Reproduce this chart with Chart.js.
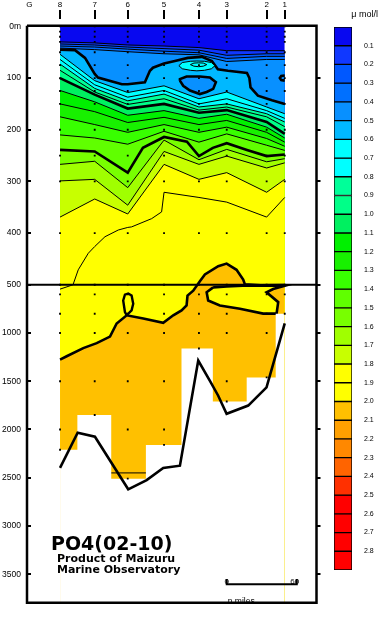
<!DOCTYPE html>
<html><head><meta charset="utf-8">
<script src="https://cdn.jsdelivr.net/npm/chart.js@4"></script>
<style>
html,body{margin:0;padding:0;background:#fff;}
#wrap{position:relative;width:380px;height:617px;overflow:hidden;background:#fff;}
#main{position:absolute;left:0;top:0;}
#bar{position:absolute;left:322px;top:0;}
</style></head><body>
<div id="wrap"><canvas id="main" width="322" height="617"></canvas><canvas id="bar" width="56" height="617"></canvas></div>
<script>
// ---------------- data ----------------
const stationNames = ['G','8','7','6','5','4','3','2','1'];
const stationDist  = [2, 28.3, 58, 86.3, 117.4, 147.3, 171.1, 205.3, 220.8];   // n.miles
const castDist     = [28.3, 58, 86.3, 117.4, 147.3, 171.1, 205.3, 220.8];      // stations 8..1
const depthTicks   = [0,100,200,300,400,500,1000,1500,2000,2500,3000,3500];
const depthLabels  = ['0m','100','200','300','400','500','1000','1500','2000','2500','3000','3500'];
const levels       = [0.1,0.2,0.3,0.4,0.5,0.6,0.7,0.8,0.9,1.0,1.1,1.2,1.3,1.4,1.5,1.6,1.7,1.8,1.9,2.0,2.1,2.2,2.3,2.4,2.5,2.6,2.7,2.8];
const thickLevels  = [0.5,1.0,1.5,2.0,2.5];
const bandColors   = ['#0808f0','#1038ff','#0058ff','#0070ff','#0890ff','#00b8ff','#00ffff','#00ffff','#00ff99','#00ff88',
                      '#00f060','#00f000','#18f000','#38ff00','#60ff00','#78ff00','#a0ff00','#c8ff00','#ffff00','#ffff00',
                      '#ffc000','#ffa000','#ff8800','#ff6400','#ff3000','#ff0000','#ff0000','#ff0000','#ff0000'];

// iso-lines: depth (m) at stations 8..1
const iso01 = [30, 32, 36, 38, 41, 47, 47, 47];
const iso02 = [34, 36, 40, 43, 46, 56, 53, 53];
const iso03 = [38, 40, 44, 48, 51, 62, 58, 58];
const iso04 = [42, 45, 49, 53, 55, 68, 64, 64];
const iso05 = [[28.3,45],[41.1,46],[49.7,61],[58,92],[60.8,99],[81.3,112],[86.3,112],[101,108],[105.3,86],[107.9,80],[117.4,72],[126.7,67],[137.8,61],[149.8,59],[158.4,67],[163.5,83],[172.1,86],[188.4,90],[190.5,100],[191.5,118],[197.8,134],[209.8,143],[220.8,150]];
const iso06 = [54, 105, 128, 115, 140, 127, 156, 169];
const iso07 = [64, 113, 137, 124, 150, 140, 163, 178];
const iso08 = [73, 120, 144, 131, 156, 150, 169, 185];
const iso09 = [85, 127, 151, 140, 162, 156, 175, 194];
const iso10 = [100, 132, 159, 150, 167, 162, 185, 208];
const iso11 = [124, 146, 172, 163, 178, 170, 195, 216];
const iso12 = [150, 165, 186, 176, 190, 182, 205, 224];
const iso13 = [175, 190, 205, 190, 205, 195, 217, 232];
const iso14 = [210, 216, 228, 203, 224, 208, 230, 240];
const iso15 = [[28.3,239],[58,242],[86.3,283],[99.3,235],[117.4,214],[137,223],[147.3,251],[159.2,235],[171.1,226],[188.4,239],[205.3,251],[220.8,248]];
const iso16 = [267, 261, 312, 220, 258, 238, 262, 256];
const iso17 = [299, 296, 346, 242, 267, 251, 274, 264];
const iso18 = [369, 334, 363, 267, 296, 283, 321, 296];
const iso19 = [[28.3,545],[39.4,500],[43.9,471],[52.5,439],[58,426],[66.8,407],[78.2,394],[86.3,389],[89.6,388],[106.8,372],[115.3,359],[117.4,321],[147.3,331],[171.1,340],[205.3,369],[220.8,331]];
const iso20 = [[28.3,1276],[34,1241],[48.2,1156],[59.7,1105],[71.1,1037],[76.8,901],[85.4,816],[99.6,850],[116.7,895],[125.3,816],[132.4,765],[136.7,714],[137.5,612],[142.4,561],[148.1,493],[152.4,480],[163.8,464],[171,459],[179.5,471],[185.2,490],[186.6,499],[200,505],[220.8,504]];
const iso21 = [[72,2450],[102.8,2450]];
// closed contours
const loop05    = [[131,105],[133.8,115],[139.6,124],[148.1,131],[153.9,127],[159.5,121],[161.8,108],[156.7,99],[148.1,97],[136.7,97],[131,102],[131,105]];
const ellipse06 = [[130.1,76],[133,70],[140,67.5],[145.5,67],[152,67.5],[158,70],[161,76],[158,82],[152,85],[145.5,86],[140,85],[133,82],[130.1,76]];
const ellipse07 = [[140,74],[143,71],[147,70.5],[151,71],[154,74],[151,77],[147,78],[143,77],[140,74]];
const loopSt1   = [[220.8,95],[217.8,96],[216.6,100],[217.8,104],[220.8,105]];
const tongue20  = [[159.5,527],[153.9,578],[155.2,663],[165.2,714],[182.4,748],[202.3,799],[213.8,799],[215.2,680],[205.2,578],[210.9,544],[220.8,510],[184.9,510],[171.1,517],[159.5,527]];
const drop20    = [[85.4,816],[83.9,782],[82.4,663],[83.9,602],[86.7,590],[89.6,612],[91,697],[89.6,765],[85.4,816]];
// deepest sample per station and sea bottom
const deepest     = [2210, 1850, 2510, 2160, 1160, 1710, 1460, 800];
const sampleDepths = [0,10,20,30,50,75,100,125,150,200,250,300,400,500,600,800,1000,1500,2000,2500];
const seaBottom   = [[28.3,2398],[43.4,2034],[58.2,2075],[86.7,2620],[102.5,2524],[116.7,2398],[131,2375],[146.7,1286],[156.7,1497],[163.8,1650],[171,1837],[189.5,1752],[205.2,1564],[220.8,901]];
const scaleBarStart = 171.1, scaleBarLen = 60;   // n.miles

// ---------------- scale mapping ----------------
const PX_UP = 0.525, PX_LOW = 0.098;
const R = PX_LOW / PX_UP;
function toT(d){ return d <= 500 ? d : 500 + (d - 500) * R; }
const T_MIN = -(26.5 - 19) / PX_UP;
const T_MAX = 500 + (612 - 289) / PX_UP;
const X_MAX = 248;

const fromStations = a => castDist.map((x,i)=>({x, y: toT(a[i])}));
const fromPairs = a => a.map(p=>({x:p[0], y:toT(p[1])}));
const NONE = 'rgba(0,0,0,0)';

const layers = [];
function add(ds){
  layers.push(Object.assign({pointRadius:0, tension:0, borderColor:'#000', borderWidth:1, fill:false, spanGaps:true}, ds));
}
// base (top band)
add({data:[{x:castDist[0],y:0},{x:castDist[castDist.length-1],y:0}], fill:'start', backgroundColor:bandColors[0], borderColor:NONE});
const isoSeries = [fromStations(iso01),fromStations(iso02),fromStations(iso03),fromStations(iso04),fromPairs(iso05),
  fromStations(iso06),fromStations(iso07),fromStations(iso08),fromStations(iso09),fromStations(iso10),
  fromStations(iso11),fromStations(iso12),fromStations(iso13),fromStations(iso14),fromPairs(iso15),
  fromStations(iso16),fromStations(iso17),fromStations(iso18),fromPairs(iso19),fromPairs(iso20)];
isoSeries.forEach((d,i)=>{
  const thick = thickLevels.includes(levels[i]);
  add({data:d, fill:'start', backgroundColor:bandColors[i+1], borderWidth: thick?2.6:1});
});
add({data:fromPairs(ellipse06), fill:'shape', backgroundColor:bandColors[6], borderWidth:1});
add({data:fromPairs(ellipse07), borderWidth:1});
add({data:fromPairs(loop05), fill:'shape', backgroundColor:bandColors[4], borderWidth:2.6});
add({data:fromPairs(loopSt1), borderWidth:2.6});
add({data:fromPairs(tongue20), fill:'shape', backgroundColor:bandColors[19], borderWidth:2.6});
add({data:fromPairs(drop20), borderWidth:2.4});
add({data:fromPairs(iso21), borderWidth:1});
// white below deepest sample
add({data:fromStations(deepest), stepped:'middle', fill:'start', backgroundColor:'#ffffff', borderColor:NONE});
// sea bottom
add({data:fromPairs(seaBottom), borderWidth:2.6});
// 500 m break line
add({data:[{x:0,y:500},{x:X_MAX,y:500}], borderWidth:2});
// sample points
const pts = [];
castDist.forEach((x,i)=>{
  sampleDepths.forEach(d=>{ if (d < deepest[i]-20) pts.push({x, y:toT(d)}); });
  pts.push({x, y:toT(deepest[i])});
});
add({data:pts, showLine:false, pointRadius:1.3, pointStyle:'rect', pointBackgroundColor:'#000', pointBorderColor:NONE, pointBorderWidth:0, borderColor:NONE});
// distance scale bar
add({data:fromPairs([[scaleBarStart,3550],[scaleBarStart,3605],[scaleBarStart+scaleBarLen,3605],[scaleBarStart+scaleBarLen,3550]]), borderWidth:2});
// frame
add({data:[{x:0,y:-1.2},{x:X_MAX,y:-1.2},{x:X_MAX,y:T_MAX},{x:0,y:T_MAX},{x:0,y:-1.2}], borderWidth:2.5, clip:false});

layers.forEach((ds,i)=>{ ds.order = layers.length - i; });

const FONT = "'Liberation Sans', Arial, sans-serif";

const textPlugin = {
  id:'texts',
  afterDraw(chart){
    const ctx = chart.ctx, xs = chart.scales.x;
    ctx.save();
    ctx.fillStyle = '#000';
    ctx.textAlign = 'center'; ctx.textBaseline = 'alphabetic';
    ctx.font = "8px " + FONT;
    ctx.fillText('0', xs.getPixelForValue(scaleBarStart), 584);
    ctx.fillText('60', xs.getPixelForValue(scaleBarStart+scaleBarLen)-2, 584);
    ctx.textAlign = 'left';
    ctx.font = "8.5px " + FONT;
    ctx.fillText('n.miles', xs.getPixelForValue(scaleBarStart)+1, 603.5);
    ctx.font = "bold 19px 'DejaVu Sans'";
    ctx.fillText('PO4(02-10)', 51, 549.5);
    ctx.font = "bold 11px 'DejaVu Sans'";
    ctx.fillText('Product of Maizuru', 57, 561.8);
    ctx.fillText('Marine Observatory', 57, 572.8);
    ctx.restore();
  }
};

new Chart(document.getElementById('main'), {
  type:'line',
  data:{datasets:layers},
  options:{
    responsive:false, animation:false, events:[],
    layout:{padding:{left:0,right:0,top:0,bottom:5}},
    plugins:{legend:{display:false}, tooltip:{enabled:false}},
    scales:{
      x:{type:'linear', position:'top', min:0, max:X_MAX, bounds:'data',
        afterBuildTicks:s=>{ s.ticks = stationDist.map(v=>({value:v})); },
        afterFit:s=>{ s.height = 19; },
        ticks:{callback:(v,i)=>stationNames[i], font:{family:FONT,size:8}, color:'#000', padding:0, maxRotation:0, autoSkip:false},
        grid:{drawOnChartArea:false, tickLength:9, lineWidth:2, color:'#000', tickColor:c=> (c.index===0 ? NONE : '#000')},
        border:{display:false}},
      y:{type:'linear', position:'left', reverse:true, min:T_MIN, max:T_MAX, bounds:'data',
        afterBuildTicks:s=>{ s.ticks = depthTicks.map(d=>({value:toT(d)})); },
        afterFit:s=>{ s.width = 27; },
        ticks:{callback:(v,i)=>depthLabels[i], font:{family:FONT,size:8.5,lineHeight:1}, color:'#000', padding:10, autoSkip:false},
        grid:{drawOnChartArea:false, tickLength:-4, lineWidth:2, color:'#000', z:1},
        border:{display:false}},
      y2:{type:'linear', position:'right', reverse:true, min:T_MIN, max:T_MAX, bounds:'data',
        afterBuildTicks:s=>{ s.ticks = depthTicks.slice(1).map(d=>({value:toT(d)})); },
        afterFit:s=>{ s.width = 5.5; },
        ticks:{callback:()=>'', font:{size:1}, padding:0, autoSkip:false},
        grid:{drawOnChartArea:false, tickLength:4, lineWidth:2, color:'#000'},
        border:{display:false}}
    }
  },
  plugins:[textPlugin]
});

// ---------------- colour bar ----------------
const edges = [0].concat(levels, [2.9]);
const barSets = bandColors.map((c,i)=>({data:[[edges[i], edges[i+1]]], backgroundColor:c, borderColor:'#000', borderWidth:1, borderSkipped:false, barPercentage:1, categoryPercentage:1}));
thickLevels.forEach(v=>barSets.push({data:[[v-0.008, v+0.008]], backgroundColor:'#000', borderWidth:0, barPercentage:1, categoryPercentage:1}));
new Chart(document.getElementById('bar'), {
  type:'bar',
  data:{labels:[''], datasets:barSets},
  options:{
    responsive:false, animation:false, events:[],
    layout:{padding:{left:12,right:0,top:0,bottom:47}},
    plugins:{legend:{display:false}, tooltip:{enabled:false},
      title:{display:true, text:'μ mol/l', align:'end', color:'#000', font:{family:FONT,size:9,weight:'normal'}, padding:{top:9.6,bottom:6.6}}},
    scales:{
      x:{display:false, stacked:true},
      y:{type:'linear', position:'right', reverse:true, min:0, max:2.9, bounds:'data',
        afterBuildTicks:s=>{ s.ticks = levels.map(v=>({value:v})); },
        afterFit:s=>{ s.width = 26; },
        ticks:{callback:(v,i)=>levels[i].toFixed(1), font:{family:FONT,size:7}, color:'#000', padding:12, autoSkip:false},
        grid:{display:false, drawTicks:false}, border:{display:false}}
    }
  }
});
</script></body></html>
